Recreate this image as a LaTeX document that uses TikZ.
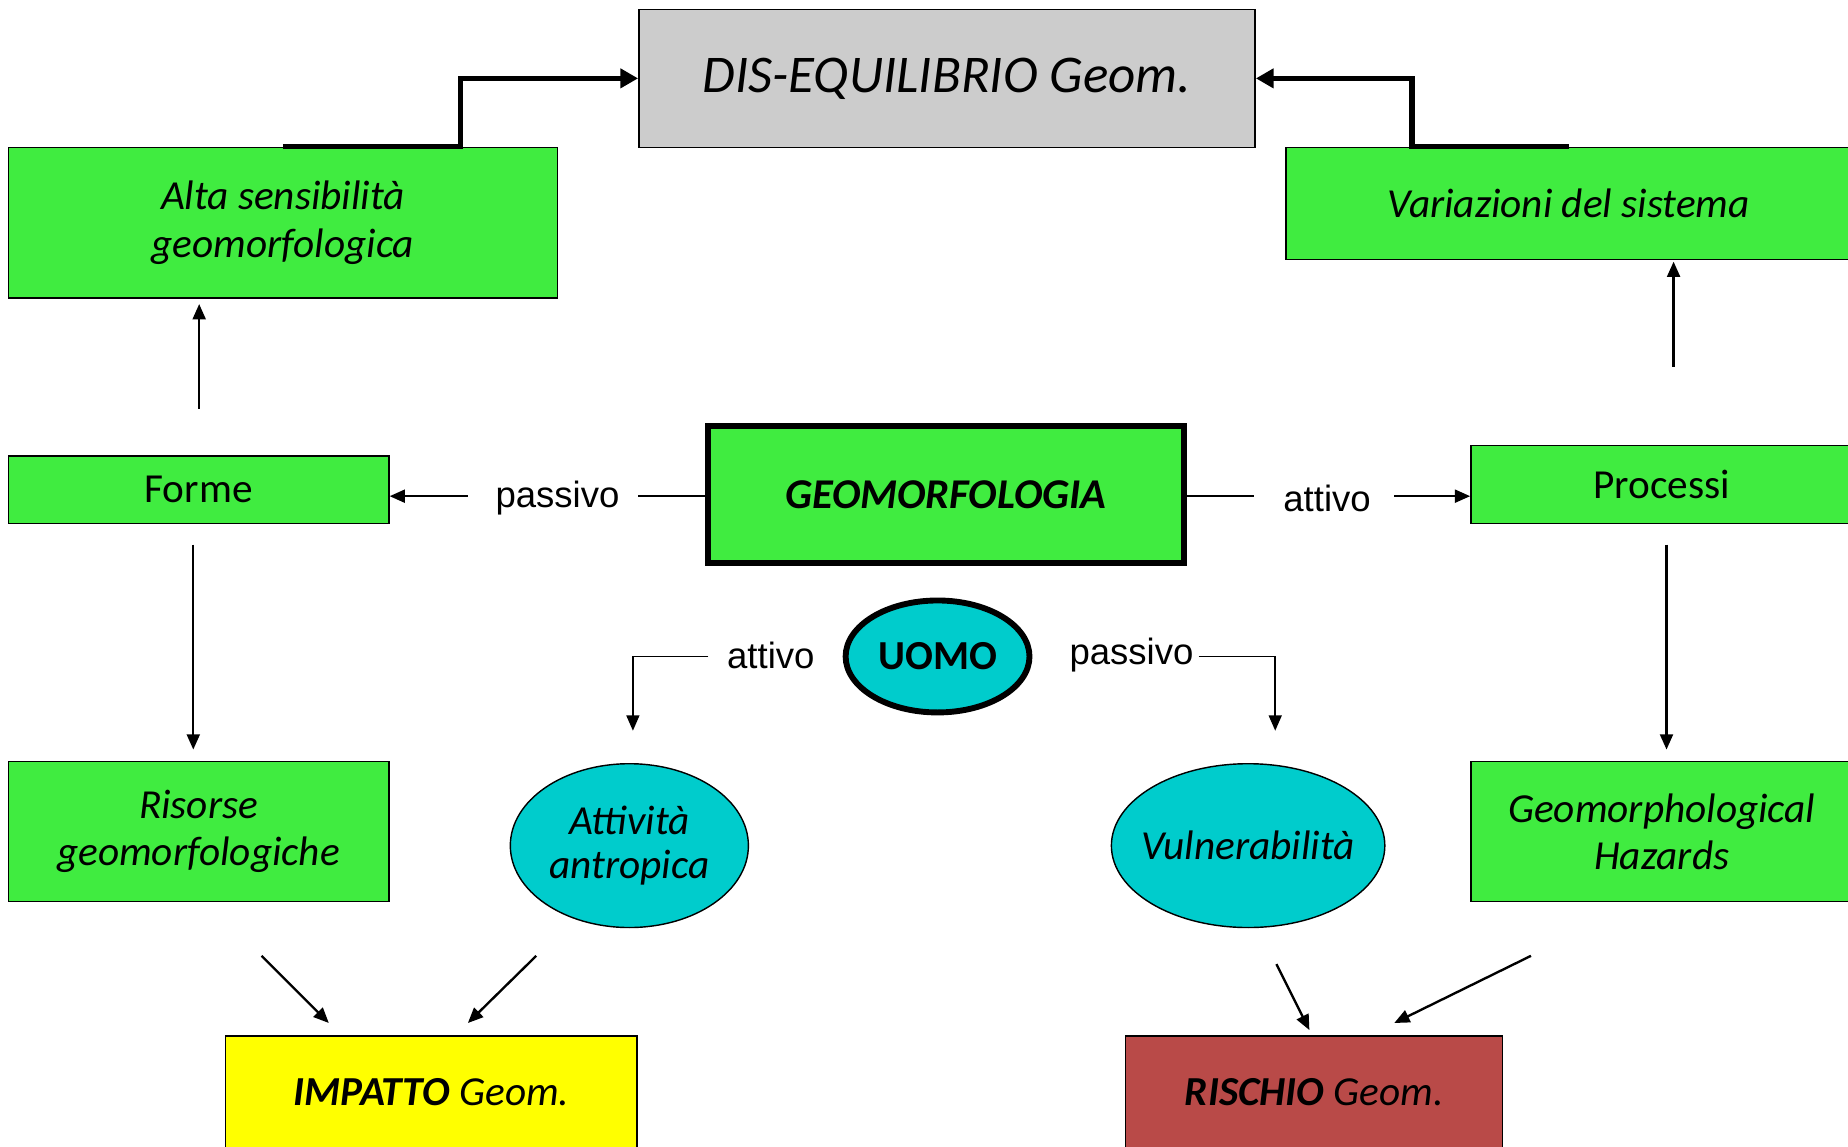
\documentclass[tikz,border=0pt]{standalone}
\usepackage{fontspec}
\setmainfont{Carlito}
\newfontfamily\arialfont{Liberation Sans}
\usetikzlibrary{arrows.meta,positioning,shapes.geometric}
\definecolor{gbox}{RGB}{64,236,64}
\definecolor{gray}{RGB}{204,204,204}
\definecolor{teal}{RGB}{0,204,204}
\definecolor{rbox}{RGB}{185,74,72}
\definecolor{ybox}{RGB}{255,255,0}
\newcommand{\zw}[1]{\makebox[0pt]{#1}}
\tikzset{
  box/.style={draw=black,line width=1.2pt,inner sep=0pt,align=center,
    font=\fontsize{35}{40}\selectfont\itshape},
  ell/.style={ellipse,draw=black,line width=1.2pt,fill=teal,inner sep=0pt,align=center,
    font=\fontsize{35}{41}\selectfont\itshape},
  lbl/.style={font=\arialfont\fontsize{31}{34}\selectfont,inner sep=0pt},
  arr/.style={line width=2pt,-{Triangle[length=13pt,width=11pt]}},
  thinarr/.style={line width=1.3pt,-{Triangle[length=13pt,width=11pt]}},
  thick/.style={line width=4.5pt,-{Triangle[length=15pt,width=16pt]}},
}
\begin{document}
\begin{tikzpicture}[x=1pt,y=-1pt]
\useasboundingbox[fill=white] (0,0) rectangle (1568,973);
% nodes
\node[box,fill=gray,minimum width=523pt,minimum height=117pt,font=\fontsize{45}{50}\selectfont\itshape] (dis) at (803.5,66.5) {DIS-EQUILIBRIO Geom.};
\node[box,fill=gbox,minimum width=466pt,minimum height=128pt] (alta) at (240,189) {\raisebox{-4pt}{\parbox{300pt}{\centering Alta sensibilità\\geomorfologica}}};
\node[box,fill=gbox,minimum width=480pt,minimum height=95pt] (vari) at (1331,172.5) {Variazioni del sistema};
\node[box,fill=gbox,minimum width=323pt,minimum height=57pt,font=\fontsize{35}{40}\selectfont] (forme) at (168.5,415.5) {Forme};
\node[box,fill=gbox,line width=5pt,minimum width=404pt,minimum height=116pt,font=\fontsize{36}{40}\selectfont\bfseries\itshape] (geo) at (802.5,419.5) {GEOMORFOLOGIA};
\node[box,fill=gbox,minimum width=324pt,minimum height=66pt,font=\fontsize{35}{40}\selectfont] (proc) at (1410,411) {Processi};
\node[ell,line width=5pt,minimum width=156pt,minimum height=95pt,font=\fontsize{35}{40}\selectfont\bfseries] (uomo) at (795.5,557) {\zw{UOMO}};
\node[box,fill=gbox,minimum width=323pt,minimum height=119pt] (ris) at (168.5,705.5) {\raisebox{-3pt}{\parbox{300pt}{\centering Risorse\\geomorfologiche}}};
\node[ell,minimum width=202pt,minimum height=139pt] (att) at (534,717.5) {\raisebox{-3pt}{\zw{Attività}}\\\zw{antropica}};
\node[ell,minimum width=232pt,minimum height=139pt] (vul) at (1059,717.5) {\zw{Vulnerabilità}};
\node[box,fill=gbox,minimum width=324pt,minimum height=119pt] (haz) at (1410,705.5) {Geomorphological\\Hazards};
\node[box,fill=ybox,minimum width=349pt,minimum height=96pt] (imp) at (366,927) {\bfseries IMPATTO\mdseries{} Geom.};
\node[box,fill=rbox,minimum width=320pt,minimum height=96pt] (risc) at (1115,927) {\bfseries RISCHIO\mdseries{} Geom.};
% top thick connectors
\draw[thick] (alta.north) -- ++(151,0) |- (dis.west);
\draw[thick] (vari.north) -- ++(-133,0) |- (dis.east);
% vertical arrows
\coordinate (fa1) at (169,347); \coordinate (fa2) at (169,258);
\draw[arr] (fa1) -- (fa2);
\coordinate (pv1) at (1420,311); \coordinate (pv2) at (1420,222);
\draw[arr] (pv1) -- (pv2);
\coordinate (fr1) at (164,462); \coordinate (fr2) at (164,636);
\draw[arr] (fr1) -- (fr2);
\coordinate (ph1) at (1414,462); \coordinate (ph2) at (1414,636);
\draw[arr] (ph1) -- (ph2);
% passivo / attivo from GEOMORFOLOGIA
\node[lbl] (lp) at (473,423) {passivo};
\node[lbl] (la) at (1126,423) {attivo};
\coordinate (ly) at (0,421);
\draw[line width=2pt] (geo.west|-ly) -- ++(-57,0);
\draw[arr] (397,421) -- (forme.east|-ly);
\draw[line width=2pt] (geo.east|-ly) -- ++(57,0);
\draw[arr] (1183,421) -- (proc.west|-ly);
% UOMO labels
\node[lbl] (ua) at (654,556) {attivo};
\node[lbl] (up) at (960,556) {passivo};
\coordinate (ua2) at (537,620);
\coordinate (up2) at (1082,620);
\draw[thinarr] (601,557) -| (ua2);
\draw[thinarr] (1017,557) -| (up2);
% bottom diagonal arrows
\coordinate (d1a) at (222,811); \coordinate (d1b) at (279,868);
\coordinate (d2a) at (455,811); \coordinate (d2b) at (397,868);
\coordinate (d3a) at (1083,818); \coordinate (d3b) at (1111,874);
\coordinate (d4a) at (1299,811); \coordinate (d4b) at (1183,868);
\draw[arr] (d1a) -- (d1b);
\draw[arr] (d2a) -- (d2b);
\draw[arr] (d3a) -- (d3b);
\draw[arr] (d4a) -- (d4b);
\end{tikzpicture}
\end{document}
